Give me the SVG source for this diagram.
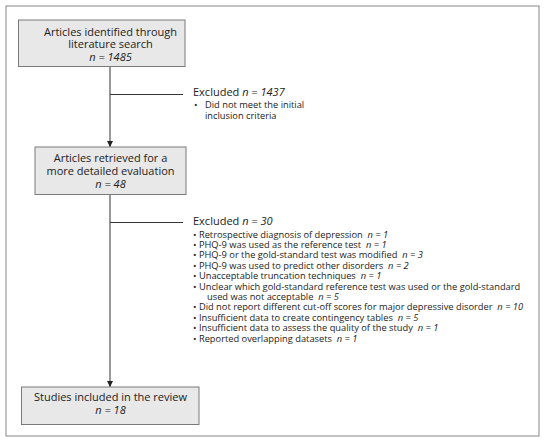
<svg xmlns="http://www.w3.org/2000/svg" width="545" height="443" viewBox="0 0 545 443">
<defs>
<marker id="ah" viewBox="0 0 10 10" refX="10" refY="5" markerWidth="6" markerHeight="6" markerUnits="userSpaceOnUse" orient="auto">
<path d="M0,0 L10,5 L0,10 z" fill="#222"/>
</marker>
<style>
.frame{fill:#fff;stroke:#9a9a9a;stroke-width:1.2}
.box{fill:#e8e8e8;stroke:#7a7a7a;stroke-width:1}
.t{font-family:"Open Sans","Noto Sans","Liberation Sans",sans-serif;font-size:11px;fill:#222}
.s{font-family:"Open Sans","Noto Sans","Liberation Sans",sans-serif;font-size:9.3px;fill:#222}
.c{text-anchor:middle}
.i{font-style:italic}
.ln{stroke:#333;stroke-width:1;fill:none}
</style>
</defs>
<rect class="frame" x="6" y="6" width="533" height="430"/>
<g id="connectors">
<line class="ln" x1="110" y1="67" x2="110" y2="147" marker-end="url(#ah)"/>
<line class="ln" x1="110" y1="94.5" x2="183" y2="94.5"/>
<line class="ln" x1="110" y1="195" x2="110" y2="387" marker-end="url(#ah)"/>
<line class="ln" x1="110" y1="222.5" x2="183" y2="222.5"/>
</g>
<g id="node-identified">
<rect class="box" x="18.5" y="20" width="166.5" height="46.5"/>
<text class="t c" x="110.5" y="35.5">Articles identified through</text>
<text class="t c" x="110.5" y="47.5">literature search</text>
<text class="t c i" x="110.5" y="60.5">n = 1485</text>
</g>
<g id="node-retrieved">
<rect class="box" x="35" y="147" width="151" height="47.5"/>
<text class="t c" x="110.5" y="162">Articles retrieved for a</text>
<text class="t c" x="110.5" y="175">more detailed evaluation</text>
<text class="t c i" x="110.5" y="188">n = 48</text>
</g>
<g id="node-included">
<rect class="box" x="21.5" y="387" width="177.5" height="37.5"/>
<text class="t c" x="110.5" y="401">Studies included in the review</text>
<text class="t c i" x="110.5" y="413.5">n = 18</text>
</g>
<g id="excluded-1">
<text class="t" x="193" y="96">Excluded <tspan class="i">n = 1437</tspan></text>
<text class="s" x="194" y="108">•</text>
<text class="s" x="205" y="108">Did not meet the initial</text>
<text class="s" x="205" y="118.5">inclusion criteria</text>
</g>
<g id="excluded-2">
<text class="t" x="193" y="225">Excluded <tspan class="i">n = 30</tspan></text>
<text class="s" x="193" y="237.5" xml:space="preserve">• Retrospective diagnosis of depression  <tspan class="i">n = 1</tspan></text>
<text class="s" x="193" y="247.9" xml:space="preserve">• PHQ-9 was used as the reference test  <tspan class="i">n = 1</tspan></text>
<text class="s" x="193" y="258.3" xml:space="preserve">• PHQ-9 or the gold-standard test was modified  <tspan class="i">n = 3</tspan></text>
<text class="s" x="193" y="268.7" xml:space="preserve">• PHQ-9 was used to predict other disorders  <tspan class="i">n = 2</tspan></text>
<text class="s" x="193" y="279.1" xml:space="preserve">• Unacceptable truncation techniques  <tspan class="i">n = 1</tspan></text>
<text class="s" x="193" y="289.5">• Unclear which gold-standard reference test was used or the gold-standard</text>
<text class="s" x="207" y="299.9" xml:space="preserve">used was not acceptable  <tspan class="i">n = 5</tspan></text>
<text class="s" x="193" y="310.3" xml:space="preserve">• Did not report different cut-off scores for major depressive disorder  <tspan class="i">n = 10</tspan></text>
<text class="s" x="193" y="320.7" xml:space="preserve">• Insufficient data to create contingency tables  <tspan class="i">n = 5</tspan></text>
<text class="s" x="193" y="331.1" xml:space="preserve">• Insufficient data to assess the quality of the study  <tspan class="i">n = 1</tspan></text>
<text class="s" x="193" y="341.5" xml:space="preserve">• Reported overlapping datasets  <tspan class="i">n = 1</tspan></text>
</g>
</svg>
